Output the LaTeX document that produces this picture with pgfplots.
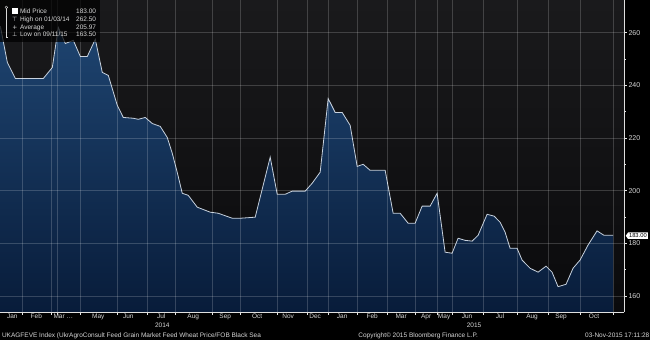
\documentclass[border=0pt]{standalone}
\usepackage{pgfplots}
\pgfplotsset{compat=1.18}
\usepackage{pgfplotstable}
\usepackage{fontspec}
\setmainfont{Liberation Sans}
\newfontfamily\dejavu{DejaVu Sans}
\usetikzlibrary{shapes.symbols}
\definecolor{filltop}{RGB}{30,68,112}
\definecolor{fillbot}{RGB}{8,28,58}
\definecolor{bgtop}{RGB}{26,26,28}
\definecolor{bgbot}{RGB}{10,10,12}
\definecolor{linec}{RGB}{200,210,222}
\definecolor{txt}{RGB}{215,215,215}

\pgfplotstableread{
x y
0 262.5
7 248.7
15 242.6
43 242.6
52 246.8
58 262.0
65 255.9
73 257.1
80 251.0
87 251.0
95 257.5
102 244.9
108 243.8
117 232.4
123 227.8
133 227.5
138 227.1
145 227.8
152 225.5
160 224.4
167 220.2
172 214.2
177 206.9
182 199.0
188 198.2
197 193.7
210 191.8
218 191.4
232 189.5
240 189.5
255 189.9
270 212.7
277 198.6
285 198.6
292 199.8
305 199.8
312 202.8
320 207.0
328 235.0
335 229.7
342 229.7
350 224.8
357 209.2
363 210.0
370 207.7
385 207.7
393 191.4
400 191.4
408 187.6
415 187.6
422 194.1
430 194.1
437 199.0
445 176.6
452 176.2
458 181.9
465 181.1
472 180.8
478 183.0
487 191.0
494 190.3
500 188.0
505 184.2
510 178.1
517 178.1
522 173.6
530 170.5
538 169.0
546 171.3
552 169.0
558 163.5
566 164.4
573 170.5
580 173.6
588 179.3
597 184.7
604 183.0
613 183.0
}\pricedata

\begin{document}
\begin{tikzpicture}[x=1pt,y=1pt]
\fill[black] (0,0) rectangle (650,-340);
\begin{axis}[
  at={(0,0)}, anchor=north west,
  width=624pt, height=312pt, scale only axis,
  xmin=0, xmax=624, ymin=153.8, ymax=272.3,
  axis on top,
  axis background/.style={top color=bgtop, bottom color=bgbot},
  axis x line*=bottom, axis y line*=right,
  axis line style={draw=white!75!gray, line width=0.7pt, -},
  xtick={22,51,57,80,117,147,175,212,240,277,307,328,357,387,415,437,452,483,517,548,580,613},
  xticklabels={},
  ytick={160,180,200,220,240,260},
  minor y tick num=1,
  grid=major,
  major grid style={white, opacity=0.18, line width=0.5pt},
  tick align=outside,
  major tick length=2.5pt, minor tick length=1.5pt,
  tick style={white!80!gray, line width=0.5pt},
  yticklabel style={font=\fontsize{7}{8}\selectfont, text=txt, xshift=-1.5pt},
  /pgf/number format/assume math mode=true,
  extra x ticks={12,36,63,98,128,161,193,225,257,288,315,342,372,401,426,444,467,500,532,561,594},
  extra x tick labels={Jan,Feb,{Mar \ldots},May,Jun,Jul,Aug,Sep,Oct,Nov,Dec,Jan,Feb,Mar,Apr,May,Jun,Jul,Aug,Sep,Oct},
  extra x tick style={grid=none, major tick length=0pt,
     xticklabel style={font=\fontsize{6.5}{7}\selectfont, text=txt, anchor=base, yshift=-6.5pt}},
  clip=true,
]
\addplot[draw=none, top color=filltop, bottom color=fillbot] table {\pricedata}
  -- (axis cs:613,153.8) -- (axis cs:0,153.8) -- cycle;
\addplot[draw=linec, line width=0.8pt, mark=none] table {\pricedata};
\end{axis}

% legend box
\fill[black, opacity=0.72] (0,0) rectangle (100,-42);
\begin{scope}[every node/.style={font=\fontsize{6.5}{7}\selectfont, text=txt, inner sep=0pt}]
\draw[txt, line width=0.4pt] (6,-7) circle (1.3);
\draw[txt, line width=0.4pt] (6,-8.5) -- (6,-37) -- (8,-37);
\fill[white] (12,-8) rectangle (17.5,-13.5);
\node[anchor=base west] at (19.5,-13) {Mid Price};
\node[anchor=base east] at (96,-13) {183.00};
\node[anchor=base] at (14.5,-21) {\dejavu\fontsize{6}{7}\selectfont ⊤};
\node[anchor=base west] at (19.5,-21) {High on 01/03/14};
\node[anchor=base east] at (96,-21) {262.50};
\node[anchor=base] at (14.5,-28.7) {\dejavu\fontsize{6}{7}\selectfont +};
\node[anchor=base west] at (19.5,-28.7) {Average};
\node[anchor=base east] at (96,-28.7) {205.97};
\node[anchor=base] at (14.5,-36.5) {\dejavu\fontsize{6}{7}\selectfont ⊥};
\node[anchor=base west] at (19.5,-36.5) {Low on 09/11/15};
\node[anchor=base east] at (96,-36.5) {163.50};
\end{scope}

% last value tag
\node[signal, signal to=west, signal pointer angle=110, fill=white, text=black,
      font=\fontsize{5.8}{6}\selectfont, inner xsep=1pt, inner ysep=1.2pt, anchor=west]
      at (625.5,-235.5) {183.00};

% years and footer
\begin{scope}[every node/.style={font=\fontsize{6.5}{7}\selectfont, text=txt, inner sep=0pt}]
\node[anchor=base] at (162,-327.5) {2014};
\node[anchor=base] at (474,-327.5) {2015};
\node[anchor=base west] at (1.5,-337) {UKAGFEVE Index (UkrAgroConsult Feed Grain Market Feed Wheat Price/FOB Black Sea};
\node[anchor=base west] at (358,-337) {Copyright\textcopyright{} 2015 Bloomberg Finance L.P.};
\node[anchor=base east] at (649.5,-337) {03-Nov-2015 17:11:28};
\end{scope}
\end{tikzpicture}
\end{document}
